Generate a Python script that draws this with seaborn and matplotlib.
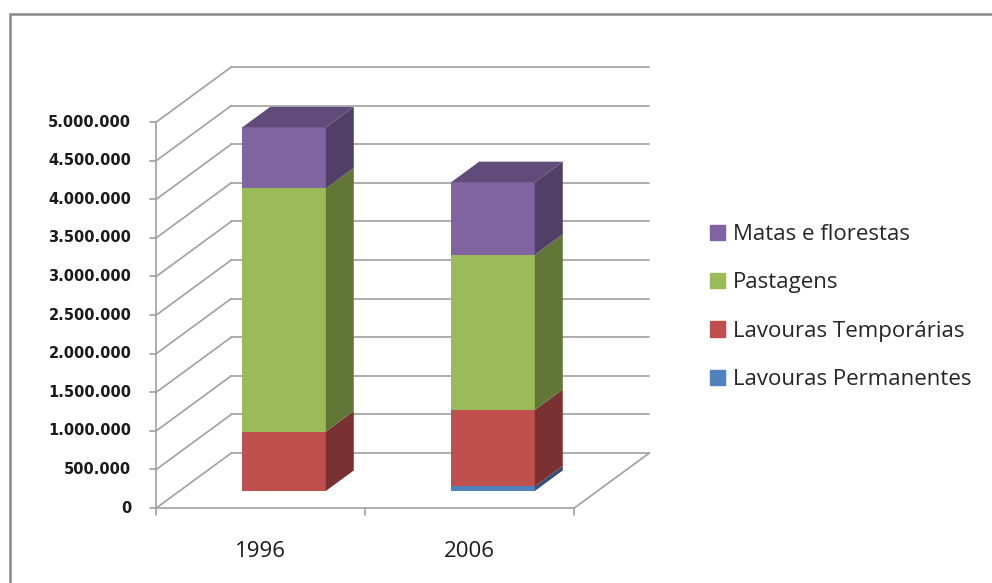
import numpy as np
import matplotlib
matplotlib.use('Agg')
import matplotlib.pyplot as plt
import seaborn as sns
from matplotlib.patches import Rectangle, Patch
from matplotlib.colors import to_rgb

sns.set_style("white")
plt.rcParams['font.family'] = ['Open Sans', 'DejaVu Sans']

# --- data (area in hectares) ---
years = ["1996", "2006"]
permanentes = [0, 60000]
temporarias = [770000, 990000]
pastagens = [3150000, 2010000]
matas = [790000, 940000]
series_names = ["Lavouras Permanentes", "Lavouras Temporárias", "Pastagens", "Matas e florestas"]
colors = ["#4F81BD", "#C0504D", "#9BBB59", "#8064A2"]
y_ticks = np.arange(0, 5000001, 500000)

# --- fake 3D layout (pixels) ---
W, H = 992, 583
cat_px = 209            # pixels per category step
val_px = 77.2e-6        # pixels per unit of value
x0_px, y0_px = 284, 491 # first bar centre / baseline of the bar front plane
depth_px = (75, 55)     # full depth of the 3D box
front_frac = 0.31       # where the bar front sits inside the depth
bar_depth = 0.373       # bar depth as fraction of full depth
bar_w = 0.4
grid_c = "#a0a0a0"
grid_lw = 1.2


def shade(c, f):
    return tuple(v * f for v in to_rgb(c))


fig = plt.figure(figsize=(W / 100, H / 100), dpi=100)
left, right, top, bottom = 140, 660, 60, 530
ax = fig.add_axes([left / W, (H - bottom) / H, (right - left) / W, (bottom - top) / H])

DX = depth_px[0] / cat_px
DY = depth_px[1] / val_px
fx, fy = -front_frac * DX, -front_frac * DY
bx, by = (1 - front_frac) * DX, (1 - front_frac) * DY
x_lo, x_hi = -0.5, len(years) - 0.5

# walls and floor
for v in y_ticks:
    ax.plot([x_lo + fx, x_lo + bx], [v + fy, v + by], color=grid_c, lw=grid_lw, zorder=1)
    ax.plot([x_lo + bx, x_hi + bx], [v + by, v + by], color=grid_c, lw=grid_lw, zorder=1)
    ax.plot([x_lo + fx - 6 / cat_px, x_lo + fx], [v + fy, v + fy], color=grid_c, lw=grid_lw, zorder=1)
    ax.text(x_lo + fx - 25 / cat_px, v + fy, f"{v:,.0f}".replace(",", "."),
            ha="right", va="center", fontsize=10.5, fontweight="bold",
            family="DejaVu Sans", color="#1a1a1a")
ax.plot([x_lo + fx, x_hi + fx], [fy, fy], color=grid_c, lw=grid_lw, zorder=1)
ax.plot([x_hi + fx, x_hi + bx], [fy, by], color=grid_c, lw=grid_lw, zorder=1)
ax.plot([x_lo + fx, x_lo + fx], [fy, y_ticks[-1] + fy], color=grid_c, lw=grid_lw, zorder=1)
for t in np.arange(x_lo, x_hi + 0.01, 1.0):
    ax.plot([t + fx, t + fx], [fy, fy - 7 / val_px], color=grid_c, lw=grid_lw, zorder=1)
for i, yr in enumerate(years):
    ax.text(i + fx, fy - 43 / val_px, yr, ha="center", va="center", fontsize=16, color="#1a1a1a")

# stacked bars: front faces drawn with seaborn, totals first
stack = np.array([permanentes, temporarias, pastagens, matas])
tops = stack.cumsum(axis=0)
bottoms = tops - stack
for k in reversed(range(len(series_names))):
    sns.barplot(x=years, y=tops[k], color=colors[k], width=bar_w, saturation=1,
                linewidth=0, ax=ax, zorder=3)

# side and top faces
ddx, ddy = bar_depth * DX, bar_depth * DY
for i in range(len(years)):
    xl, xr = i - bar_w / 2, i + bar_w / 2
    for k in range(len(series_names)):
        b, t = bottoms[k, i], tops[k, i]
        if t > b:
            ax.fill([xr, xr + ddx, xr + ddx, xr], [b, b + ddy, t + ddy, t],
                    color=shade(colors[k], 0.63), lw=0, zorder=3)
    k_top = max(k for k in range(len(series_names)) if stack[k, i] > 0)
    T = tops[-1, i]
    ax.fill([xl, xr, xr + ddx, xl + ddx], [T, T, T + ddy, T + ddy],
            color=shade(colors[k_top], 0.75), lw=0, zorder=3)

ax.set_xlim((left - x0_px) / cat_px, (right - x0_px) / cat_px)
ax.set_ylim((y0_px - bottom) / val_px, (y0_px - top) / val_px)
ax.set_axis_off()

handles = [Patch(color=c, label=n) for c, n in zip(colors, series_names)][::-1]
fig.legend(handles=handles, loc="upper left", bbox_to_anchor=(710 / W, 1 - 224 / H),
           frameon=False, fontsize=16, handlelength=0.68, handleheight=0.68,
           handletextpad=0.35, labelspacing=1.23, borderpad=0, borderaxespad=0)

fig.patches.append(Rectangle((10 / W, -0.1), 1.2, 1 - 14 / H + 0.1, transform=fig.transFigure,
                             fill=False, ec="#868686", lw=1.8))

fig.savefig("out.png", dpi=100)
